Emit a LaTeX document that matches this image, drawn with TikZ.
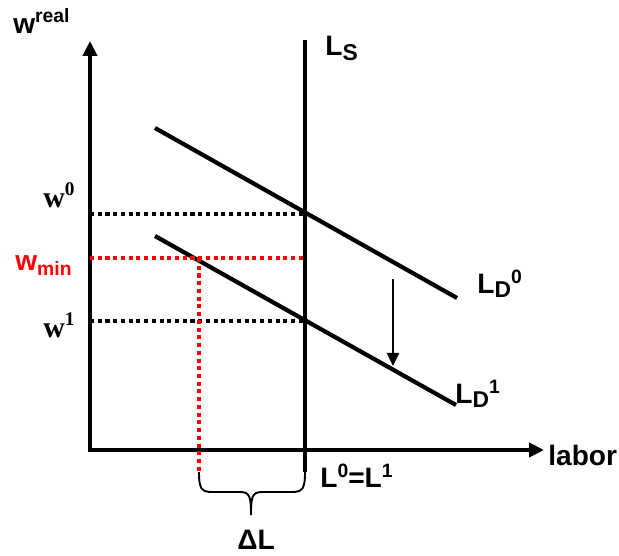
\documentclass[tikz,border=0pt]{standalone}
\usepackage{fontspec}
\setmainfont{Liberation Sans}
\newfontfamily\timesbf{Liberation Serif}
\usetikzlibrary{positioning,calc,arrows.meta}
% raised / lowered small text for the labels
\newcommand\hi[2][6pt]{\raisebox{#1}{\fontsize{11}{11}\selectfont #2}}
\newcommand\lo[2][-3pt]{\raisebox{#1}{\fontsize{11}{11}\selectfont #2}}
\tikzset{axis/.style={line width=2.7pt,line join=miter,{Triangle[length=8.5pt,width=8pt]}-{Triangle[length=8.5pt,width=8pt]}}}
\tikzset{curve/.style={line width=2.4pt}}
\tikzset{level/.style={line width=2.3pt,dash pattern=on 2.3pt off 2.1pt}}
\tikzset{shiftarrow/.style={line width=1.1pt,-{Triangle[length=7.5pt,width=7pt]}}}
\tikzset{brace/.style={line width=1.1pt}}
\tikzset{lab/.style={font=\bfseries\fontsize{16}{18}\selectfont,inner sep=0pt,anchor=base west}}
\begin{document}
\begin{tikzpicture}[x=0.02cm,y=-0.02cm]
	\useasboundingbox (0,0) rectangle (619,555);
	% axes
	\coordinate (O) at (90,450);
	\coordinate (ytop) at (90,41);
	\coordinate (xend) at (544,450);
	\draw[axis] (xend) -- (O) -- (ytop);
	\node[lab] (wreal) at (13,33) {w\hi[6pt]{real}};
	\node[lab] (labor) at (548,465) {labor};

	% supply and demand
	\coordinate (lstop) at (305,40);
	\coordinate (lsbot) at (305,472);
	\coordinate (d0a) at (155,128);
	\coordinate (d0b) at (457,298);
	\coordinate (d1a) at (155,236);
	\coordinate (d1b) at (456,405);
	\draw[curve] (lstop) -- (lsbot);
	\draw[curve] (d0a) -- (d0b);
	\draw[curve] (d1a) -- (d1b);
	\node[lab] (ls) at (325,55) {L\lo[-3pt]{\fontsize{13}{13}\selectfont S}};
	\node[lab] (ld0) at (477,293) {L\lo[-2.5pt]{\fontsize{13}{13}\selectfont D}\hi[5.5pt]{0}};
	\node[lab] (ld1) at (455,403) {L\lo[-2.5pt]{\fontsize{13}{13}\selectfont D}\hi[5.5pt]{1}};
	\node[lab] (leq) at (320,487) {L\hi[5.5pt]{0}=L\hi[5.5pt]{1}};

	% wage levels
	\coordinate (w0a) at (90,214);
	\coordinate (e0) at (305,214);
	\coordinate (w1a) at (90,321);
	\coordinate (e1) at (305,321);
	\coordinate (wma) at (90,258);
	\coordinate (wmb) at (305,258);
	\coordinate (m) at (199,258);
	\coordinate (mbot) at (199,472);
	\draw[level] (w0a) -- (e0);
	\draw[level] (w1a) -- (e1);
	\draw[level,red] (wma) -- (wmb);
	\draw[level,red] (m) -- (mbot);
	\node[lab,font=\timesbf\bfseries\fontsize{17}{18}\selectfont] (w0) at (43,207) {w\raisebox{6.8pt}{\fontsize{11}{11}\selectfont 0}};
	\node[lab,font=\timesbf\bfseries\fontsize{17}{18}\selectfont] (w1) at (43,337) {w\raisebox{6.8pt}{\fontsize{11}{11}\selectfont 1}};
	\node[lab,red] (wmin) at (15,270) {w\lo[-3.4pt]{min}};

	% shift of demand
	\coordinate (sa) at (393,279);
	\coordinate (sb) at (393,366);
	\draw[shiftarrow] (sa) -- (sb);

	% unemployment
	\draw[brace] (mbot) .. controls (199,488) and (201,492) .. (212,492) -- (240,492)
		.. controls (250,492) and (251,497) .. (251,515)
		.. controls (251,497) and (252,492) .. (262,492) -- (292,492)
		.. controls (303,492) and (305,488) .. (lsbot);
	\node[lab] (dl) at (237,549) {ΔL};
\end{tikzpicture}
\end{document}
